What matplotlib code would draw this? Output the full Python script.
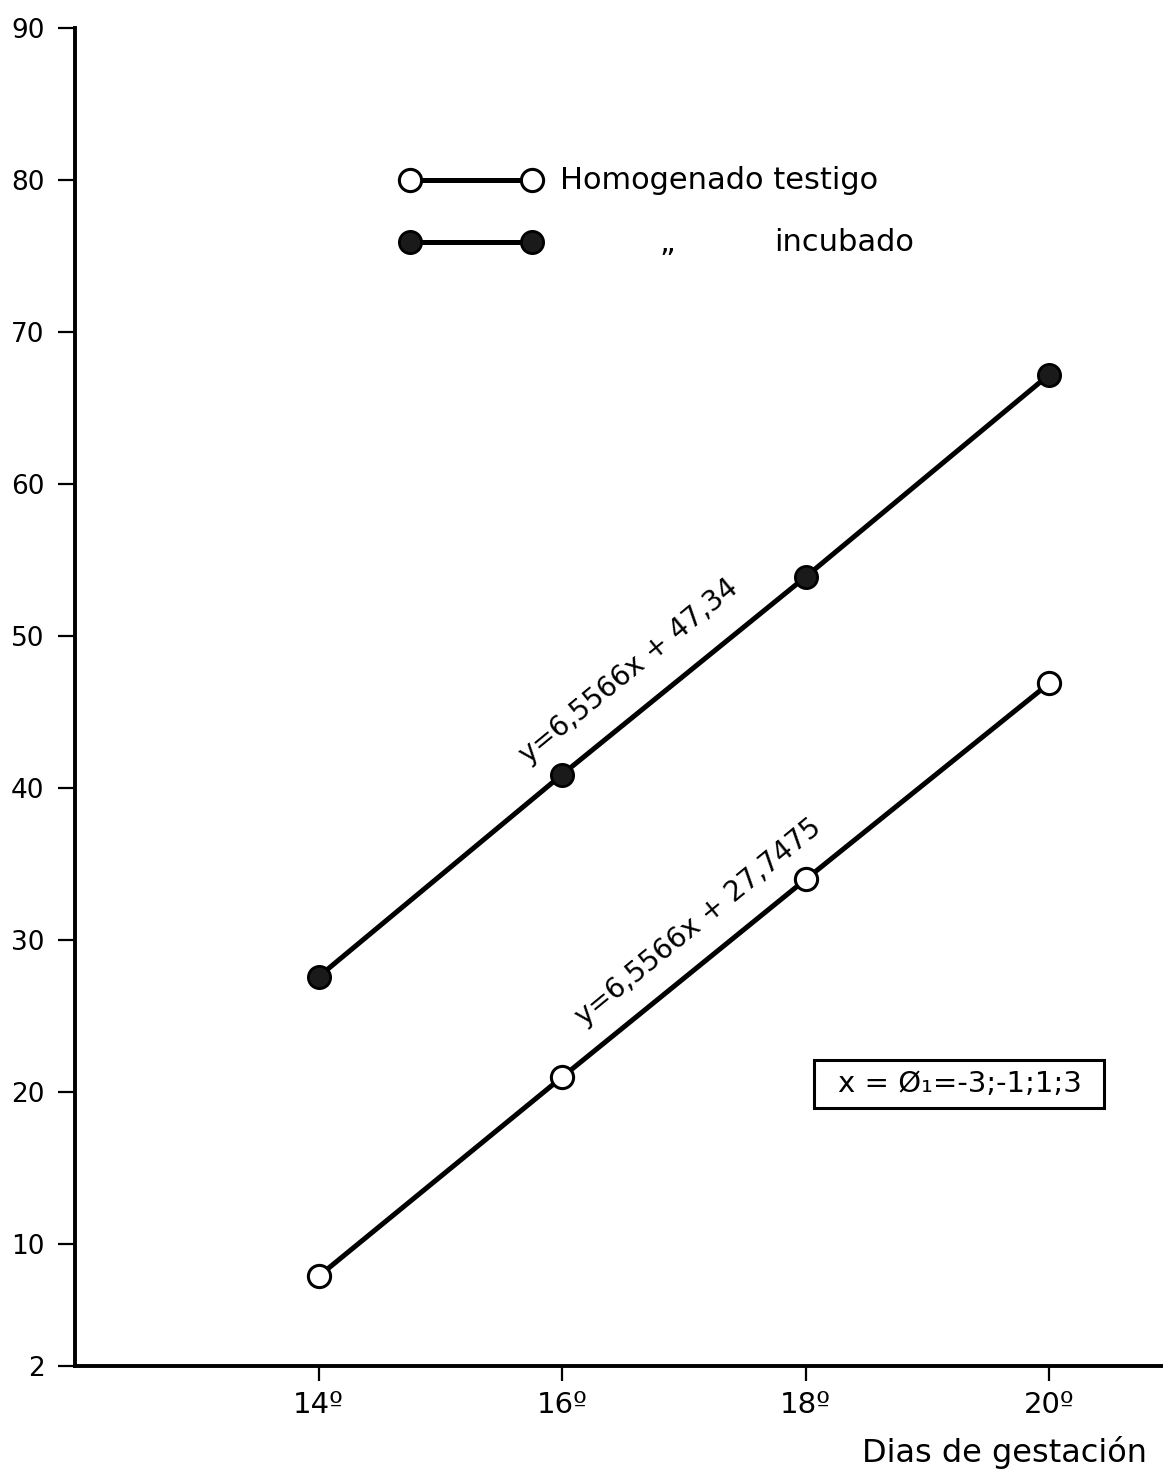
import matplotlib.pyplot as plt
from matplotlib.patches import Rectangle

# data
dias = [14, 16, 18, 20]
testigo = [7.9, 21.0, 34.0, 46.9]
incubado = [27.6, 40.9, 53.9, 67.2]
xtick_labels = ['14º', '16º', '18º', '20º']
yticks = [2, 10, 20, 30, 40, 50, 60, 70, 80, 90]

plt.rcParams['font.family'] = ['DejaVu Sans']
fig = plt.figure(figsize=(11.63, 14.72), dpi=100)
ax = fig.add_axes([0.0645, 0.072, 0.935, 0.909])

LW = 3.6
MS = 16
ax.plot(dias, incubado, color='black', lw=LW, marker='o', ms=MS,
        mfc='#1a1a1a', mec='black', mew=2, zorder=3)
ax.plot(dias, testigo, color='black', lw=LW, marker='o', ms=MS,
        mfc='white', mec='black', mew=2.2, zorder=3)

ax.set_xlim(12, 20.93)
ax.set_ylim(2, 90)
ax.set_xticks(dias)
ax.set_xticklabels(xtick_labels)
ax.set_yticks(yticks)
ax.set_yticklabels([str(v) for v in yticks])
ax.spines['top'].set_visible(False)
ax.spines['right'].set_visible(False)
ax.spines['left'].set_linewidth(2.8)
ax.spines['bottom'].set_linewidth(2.8)
ax.tick_params(axis='y', labelsize=19, width=1.6, length=12, pad=10)
ax.tick_params(axis='x', labelsize=21, width=1.6, length=11, pad=7)

# legend drawn by hand
ax.plot([14.75, 15.75], [80, 80], color='black', lw=LW, marker='o', ms=MS,
        mfc='white', mec='black', mew=2.2, clip_on=False)
ax.text(15.98, 80, 'Homogenado testigo', fontsize=22, va='center', ha='left')
ax.plot([14.75, 15.75], [75.9, 75.9], color='black', lw=LW, marker='o', ms=MS,
        mfc='#1a1a1a', mec='black', mew=2, clip_on=False)
ax.text(16.8, 75.9, '„', fontsize=22, va='center', ha='left')
ax.text(17.74, 75.9, 'incubado', fontsize=22, va='center', ha='left')

# regression equations along the lines
ax.text(16.55, 47.7, 'y=6,5566x + 47,34', fontsize=20, rotation=39.4,
        rotation_mode='anchor', ha='center', va='center')
ax.text(17.12, 31.2, 'y=6,5566x + 27,7475', fontsize=20, rotation=39.4,
        rotation_mode='anchor', ha='center', va='center')

# boxed note
ax.add_patch(Rectangle((0.680, 0.193), 0.2665, 0.0359, transform=ax.transAxes,
                       fc='white', ec='black', lw=2.2, zorder=4))
ax.text(0.8134, 0.2108, 'x = Ø₁=-3;-1;1;3', fontsize=21, ha='center',
        va='center', transform=ax.transAxes, zorder=5)

fig.text(0.986, 0.013, 'Dias de gestación', fontsize=23, ha='right', va='center')

fig.savefig('out.png', dpi=100)
